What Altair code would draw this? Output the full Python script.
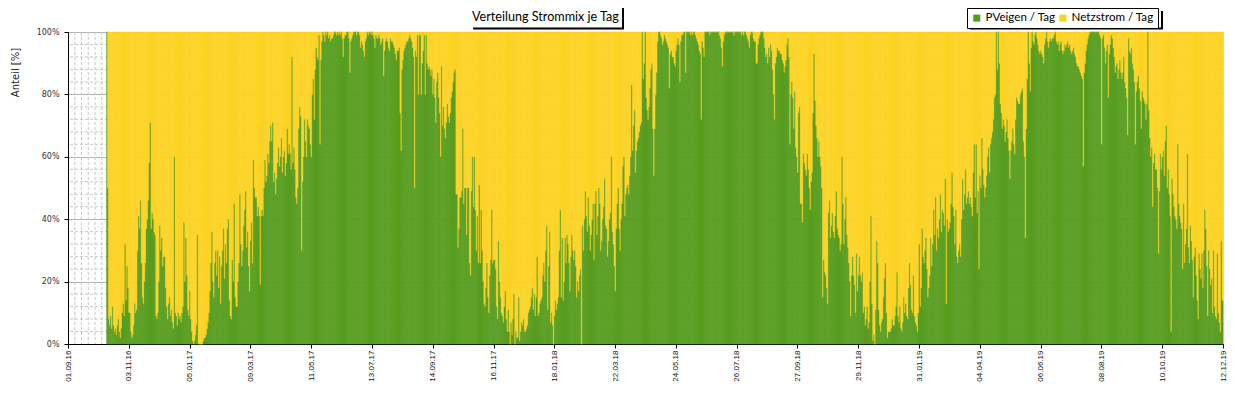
import altair as alt
import pandas as pd

# ---------------- data ----------------
chart_title = "Verteilung Strommix je Tag"
tick_labels = ["01.09.16", "03.11.16", "05.01.17", "09.03.17", "11.05.17", "13.07.17",
               "14.09.17", "16.11.17", "18.01.18", "22.03.18", "24.05.18", "26.07.18",
               "27.09.18", "29.11.18", "31.01.19", "04.04.19", "06.06.19", "08.08.19",
               "10.10.19", "12.12.19"]
y_ticks = [0, 20, 40, 60, 80, 100]
minor_y = [4, 8, 12, 16, 24, 28, 32, 36, 44, 48, 52, 56, 64, 68, 72, 76, 84, 88, 92, 96]
series_names = ["PVeigen / Tag", "Netzstrom / Tag"]
series_colors = ["#579C1E", "#FDD323"]
axis_start = "01.09.16"
axis_end = "12.12.19"

# daily PV share in percent (Netzstrom = 100 - PV)
pv_2016_10 = [100, 50, 8, 6, 9, 5, 12, 6, 4, 5, 3, 6, 8, 4, 2, 5, 10, 13, 9, 32, 14]
pv_2016_11 = [25, 18, 10, 10, 4, 2, 3, 6, 13, 10, 11, 30, 41, 37, 46, 26, 15, 13, 20, 26, 37, 40, 46, 58, 71, 37, 42, 40, 36, 35]
pv_2016_12 = [9, 8, 10, 20, 38, 30, 34, 25, 28, 28, 18, 12, 8, 13, 15, 9, 11, 7, 5, 60, 10, 9, 6, 10, 8, 9, 7, 10, 12, 39, 20]
pv_2017_01 = [34, 22, 11, 9, 17, 8, 4, 1, 0, 1, 3, 6, 35, 0, 0, 0, 0, 0, 1, 2, 2, 3, 5, 7, 10, 17, 26, 36, 20, 15, 26]
pv_2017_02 = [30, 22, 30, 18, 28, 13, 25, 30, 37, 21, 32, 26, 37, 40, 14, 9, 8, 27, 20, 45, 15, 12, 12, 20, 26, 48, 32, 25]
pv_2017_03 = [30, 38, 43, 49, 31, 36, 25, 17, 33, 39, 26, 59, 50, 47, 47, 41, 44, 41, 19, 41, 43, 41, 50, 59, 52, 54, 61, 58, 65, 70, 65]
pv_2017_04 = [71, 52, 55, 48, 53, 58, 63, 57, 60, 66, 55, 60, 62, 54, 58, 69, 61, 64, 61, 56, 92, 58, 63, 56, 47, 45, 50, 69, 76, 73]
pv_2017_05 = [30, 52, 60, 72, 65, 60, 72, 70, 69, 64, 60, 80, 85, 72, 88, 95, 92, 91, 99, 64, 91, 97, 100, 99, 97, 100, 99, 100, 98, 99, 97]
pv_2017_06 = [98, 98, 99, 100, 100, 99, 100, 99, 100, 99, 100, 98, 92, 98, 99, 99, 100, 100, 98, 87, 97, 98, 99, 100, 100, 100, 99, 100, 100, 99]
pv_2017_07 = [95, 97, 96, 94, 92, 97, 98, 100, 99, 100, 100, 99, 100, 99, 98, 95, 99, 98, 98, 99, 98, 96, 97, 98, 86, 94, 97, 98, 97, 95, 94]
pv_2017_08 = [98, 97, 97, 96, 95, 93, 91, 94, 94, 95, 74, 62, 88, 91, 94, 95, 96, 97, 97, 98, 99, 98, 97, 95, 92, 50, 94, 92, 99, 80, 99]
pv_2017_09 = [99, 80, 90, 94, 99, 80, 99, 90, 88, 89, 88, 86, 88, 80, 85, 79, 71, 84, 87, 79, 74, 60, 89, 70, 76, 69, 66, 71, 77, 73]
pv_2017_10 = [71, 74, 79, 81, 84, 87, 88, 48, 48, 31, 37, 47, 47, 49, 69, 45, 50, 50, 35, 50, 50, 26, 22, 49, 60, 44, 60, 43, 30, 41, 26]
pv_2017_11 = [51, 26, 43, 30, 20, 13, 12, 18, 26, 15, 10, 22, 27, 43, 26, 27, 27, 24, 12, 8, 33, 20, 15, 10, 9, 7, 12, 17, 8, 4]
pv_2017_12 = [11, 4, 0, 7, 3, 8, 16, 0, 4, 2, 2, 15, 1, 4, 7, 6, 8, 4, 4, 5, 6, 10, 11, 12, 15, 18, 11, 16, 9, 15, 28]
pv_2018_01 = [9, 10, 13, 14, 15, 22, 26, 20, 30, 38, 11, 25, 36, 7, 10, 6, 0, 9, 14, 11, 13, 15, 30, 43, 15, 34, 14, 20, 34, 26, 35]
pv_2018_02 = [32, 26, 17, 28, 35, 30, 27, 30, 25, 15, 20, 17, 22, 24, 0, 38, 30, 40, 49, 41, 36, 47, 38, 30, 35, 40, 45, 27]
pv_2018_03 = [45, 49, 35, 41, 50, 45, 30, 33, 40, 44, 53, 38, 37, 28, 33, 40, 42, 60, 36, 32, 25, 17, 37, 45, 50, 37, 30, 40, 45, 57, 60]
pv_2018_04 = [41, 48, 50, 51, 48, 54, 60, 83, 62, 70, 75, 55, 62, 65, 66, 68, 70, 71, 100, 85, 90, 100, 79, 75, 72, 76, 82, 88, 90, 69]
pv_2018_05 = [54, 69, 80, 87, 97, 100, 100, 99, 98, 96, 97, 99, 98, 97, 96, 95, 82, 93, 94, 92, 92, 90, 89, 94, 96, 98, 96, 84, 97, 99, 99]
pv_2018_06 = [100, 100, 87, 100, 100, 100, 100, 99, 100, 99, 100, 100, 99, 98, 97, 96, 94, 93, 72, 97, 95, 92, 100, 100, 100, 100, 100, 99, 100, 100]
pv_2018_07 = [100, 100, 100, 100, 100, 100, 100, 99, 98, 95, 89, 97, 99, 100, 100, 100, 100, 100, 100, 100, 100, 100, 99, 100, 100, 100, 100, 100, 100, 100, 99]
pv_2018_08 = [100, 99, 100, 100, 99, 98, 97, 95, 99, 100, 100, 98, 97, 97, 90, 90, 96, 98, 99, 100, 100, 100, 98, 95, 92, 93, 90, 95, 92, 96, 94]
pv_2018_09 = [88, 80, 72, 90, 92, 95, 94, 94, 93, 93, 91, 90, 87, 89, 91, 96, 98, 92, 64, 80, 84, 79, 69, 81, 63, 60, 55, 74, 76, 45]
pv_2018_10 = [45, 39, 61, 58, 56, 54, 61, 56, 50, 43, 52, 55, 74, 93, 78, 70, 66, 60, 65, 60, 57, 50, 15, 27, 23, 22, 18, 13, 42, 46, 34]
pv_2018_11 = [38, 42, 36, 34, 41, 49, 37, 35, 34, 30, 32, 60, 45, 32, 40, 47, 35, 31, 26, 20, 9, 22, 28, 22, 19, 10, 29, 17, 22, 28]
pv_2018_12 = [22, 20, 23, 10, 12, 6, 8, 12, 5, 7, 20, 41, 13, 1, 3, 0, 11, 33, 26, 11, 6, 4, 7, 8, 15, 21, 26, 10, 2, 4, 4]
pv_2019_01 = [4, 5, 8, 6, 6, 9, 12, 23, 9, 7, 12, 5, 4, 7, 15, 10, 13, 9, 8, 18, 26, 19, 11, 10, 22, 9, 7, 6, 4, 10, 32]
pv_2019_02 = [12, 18, 37, 28, 26, 30, 34, 24, 15, 18, 22, 34, 25, 32, 43, 35, 47, 30, 37, 34, 40, 48, 36, 43, 42, 38, 53, 13]
pv_2019_03 = [40, 36, 37, 39, 45, 55, 44, 41, 32, 43, 28, 26, 30, 32, 28, 40, 53, 43, 48, 56, 45, 47, 49, 45, 47, 44, 41, 55, 64, 47, 64]
pv_2019_04 = [42, 49, 24, 54, 50, 66, 56, 51, 47, 50, 54, 60, 63, 55, 64, 66, 68, 72, 79, 80, 100, 88, 100, 90, 77, 74, 69, 72, 70, 65]
pv_2019_05 = [68, 72, 66, 62, 53, 62, 65, 69, 64, 61, 72, 79, 78, 77, 77, 80, 81, 82, 65, 60, 34, 69, 85, 100, 90, 81, 95, 100, 97, 96, 99]
pv_2019_06 = [100, 98, 96, 94, 93, 94, 93, 92, 90, 96, 98, 100, 97, 95, 97, 98, 97, 98, 98, 99, 100, 97, 96, 97, 94, 96, 97, 94, 93, 94]
pv_2019_07 = [96, 95, 96, 97, 95, 96, 94, 93, 94, 95, 93, 92, 90, 89, 89, 88, 87, 86, 85, 57, 87, 90, 94, 96, 98, 99, 100, 100, 100, 100, 100]
pv_2019_08 = [100, 100, 100, 100, 100, 99, 98, 64, 98, 99, 95, 90, 94, 96, 79, 93, 96, 99, 98, 95, 92, 87, 89, 90, 85, 88, 91, 87, 85, 87, 92]
pv_2019_09 = [84, 82, 79, 67, 98, 94, 93, 95, 90, 88, 84, 64, 81, 84, 86, 82, 78, 69, 81, 79, 78, 77, 72, 77, 100, 75, 66, 60, 63, 44]
pv_2019_10 = [58, 61, 56, 56, 50, 29, 49, 61, 56, 60, 62, 54, 65, 70, 50, 56, 48, 41, 4, 53, 48, 44, 41, 40, 37, 64, 45, 41, 39, 37, 24]
pv_2019_11 = [45, 26, 32, 37, 61, 31, 26, 38, 33, 27, 15, 28, 31, 22, 14, 8, 29, 24, 21, 29, 18, 30, 43, 37, 25, 9, 30, 24, 19, 21]
pv_2019_12 = [10, 30, 12, 9, 8, 29, 10, 7, 4, 33, 14]

month_series = [
    ("2016-10-11", pv_2016_10), ("2016-11-01", pv_2016_11), ("2016-12-01", pv_2016_12),
    ("2017-01-01", pv_2017_01), ("2017-02-01", pv_2017_02), ("2017-03-01", pv_2017_03),
    ("2017-04-01", pv_2017_04), ("2017-05-01", pv_2017_05), ("2017-06-01", pv_2017_06),
    ("2017-07-01", pv_2017_07), ("2017-08-01", pv_2017_08), ("2017-09-01", pv_2017_09),
    ("2017-10-01", pv_2017_10), ("2017-11-01", pv_2017_11), ("2017-12-01", pv_2017_12),
    ("2018-01-01", pv_2018_01), ("2018-02-01", pv_2018_02), ("2018-03-01", pv_2018_03),
    ("2018-04-01", pv_2018_04), ("2018-05-01", pv_2018_05), ("2018-06-01", pv_2018_06),
    ("2018-07-01", pv_2018_07), ("2018-08-01", pv_2018_08), ("2018-09-01", pv_2018_09),
    ("2018-10-01", pv_2018_10), ("2018-11-01", pv_2018_11), ("2018-12-01", pv_2018_12),
    ("2019-01-01", pv_2019_01), ("2019-02-01", pv_2019_02), ("2019-03-01", pv_2019_03),
    ("2019-04-01", pv_2019_04), ("2019-05-01", pv_2019_05), ("2019-06-01", pv_2019_06),
    ("2019-07-01", pv_2019_07), ("2019-08-01", pv_2019_08), ("2019-09-01", pv_2019_09),
    ("2019-10-01", pv_2019_10), ("2019-11-01", pv_2019_11), ("2019-12-01", pv_2019_12),
]

# ---------------- build tables ----------------
FMT = "%Y-%m-%dT00:00:00"
rows = []
for start, vals in month_series:
    d0 = pd.Timestamp(start)
    room = d0.days_in_month - d0.day + 1
    for i, v in enumerate(vals[:room]):
        d = d0 + pd.Timedelta(days=i)
        e = d + pd.Timedelta(days=1)
        rows.append({"date": d.strftime(FMT), "date_end": e.strftime(FMT),
                     "series": series_names[0], "ord": 0, "value": v})
        rows.append({"date": d.strftime(FMT), "date_end": e.strftime(FMT),
                     "series": series_names[1], "ord": 1, "value": 100 - v})
df = pd.DataFrame(rows)


def to_ts(lbl):
    d, m, y = lbl.split(".")
    return pd.Timestamp(year=2000 + int(y), month=int(m), day=int(d))


def to_dt(lbl):
    t = to_ts(lbl)
    return alt.DateTime(year=t.year, month=t.month, date=t.day, hours=0)


weeks = pd.date_range(to_ts(axis_start), to_ts(axis_end), freq="7D")[1:]
week_df = pd.DataFrame({"week": [w.strftime(FMT) for w in weeks]})
minor_df = pd.DataFrame({"level": minor_y})

# ---------------- scales / axes ----------------
x_scale = alt.Scale(domain=[to_dt(axis_start), to_dt(axis_end)], nice=False, padding=0)
y_scale = alt.Scale(domain=[0, 100], nice=False, padding=0)

x_axis = alt.Axis(values=[to_dt(t) for t in tick_labels], format="%d.%m.%y",
                  labelAngle=-90, labelFont="Liberation Sans", labelFontSize=8,
                  labelColor="#111111", labelPadding=2,
                  tickSize=4, tickColor="black", domainColor="black", grid=False,
                  labelOverlap=False, labelFlush=False, labelBound=False)
y_axis = alt.Axis(values=y_ticks, labelExpr="datum.value + '%'",
                  labelFont="DejaVu Sans", labelFontSize=8, labelColor="#333333",
                  labelPadding=5, tickSize=4, tickColor="black", domainColor="black",
                  grid=True, gridColor="#B4B4B4", gridWidth=1,
                  title="Anteil [%]", titleFont="DejaVu Sans", titleFontSize=10,
                  titleFontWeight="normal", titleColor="#222222",
                  titleX=-53, titleY=40, titleAlign="center", titleBaseline="middle",
                  titleAngle=270)

# ---------------- layers ----------------
minor_h = alt.Chart(minor_df).mark_rule(color="#C8C8C8", strokeDash=[3, 2], strokeWidth=1).encode(
    y=alt.Y("level:Q", scale=y_scale, axis=y_axis)
)
minor_v = alt.Chart(week_df).mark_rule(color="#C8C8C8", strokeDash=[3, 2], strokeWidth=1).encode(
    x=alt.X("week:T", scale=x_scale, axis=x_axis, title=None)
)

color_scale = alt.Scale(domain=series_names, range=series_colors)
bars = alt.Chart(df).mark_bar(orient="vertical", strokeWidth=0.5).encode(
    x=alt.X("date:T", scale=x_scale, axis=x_axis, title=None),
    x2="date_end:T",
    y=alt.Y("value:Q", stack="zero", scale=y_scale, axis=y_axis),
    color=alt.Color("series:N", scale=color_scale,
                    legend=alt.Legend(title=None, orient="none", legendX=899, legendY=-24,
                                      direction="horizontal", strokeColor="black",
                                      fillColor="white", padding=4, symbolType="square",
                                      symbolSize=50, symbolStrokeWidth=0,
                                      labelFont="Lato", labelFontSize=11.6, labelColor="black",
                                      columnPadding=1, labelOffset=3)),
    stroke=alt.Stroke("series:N", scale=color_scale, legend=None),
    order=alt.Order("ord:Q", sort="ascending"),
)

# title text and drop shadows of the title box and the legend box
deco = alt.Chart(pd.DataFrame({"label": [chart_title]}))
title_txt = deco.mark_text(align="left", baseline="middle", font="Lato", fontSize=12.6,
                           color="black").encode(
    text="label:N", x=alt.value(404), y=alt.value(-15))
title_sh_b = deco.mark_rule(color="black", strokeWidth=2).encode(
    x=alt.value(405), x2=alt.value(556), y=alt.value(-3.5))
title_sh_r = deco.mark_rule(color="black", strokeWidth=2).encode(
    x=alt.value(555), y=alt.value(-24), y2=alt.value(-3))
leg_sh_b = deco.mark_rule(color="black", strokeWidth=2).encode(
    x=alt.value(902), x2=alt.value(1095), y=alt.value(-3.5))
leg_sh_r = deco.mark_rule(color="black", strokeWidth=2).encode(
    x=alt.value(1094), y=alt.value(-21), y2=alt.value(-3))

chart = alt.layer(minor_h, minor_v, bars, title_txt, title_sh_b, title_sh_r,
                  leg_sh_b, leg_sh_r).properties(
    width=1155, height=312,
    autosize=alt.AutoSizeParams(type="none"),
    padding={"left": 60, "top": 24, "right": 4, "bottom": 39},
).configure_view(stroke=None).configure(background="white")

chart.save("out.html", embed_options={"renderer": "svg", "actions": False})
